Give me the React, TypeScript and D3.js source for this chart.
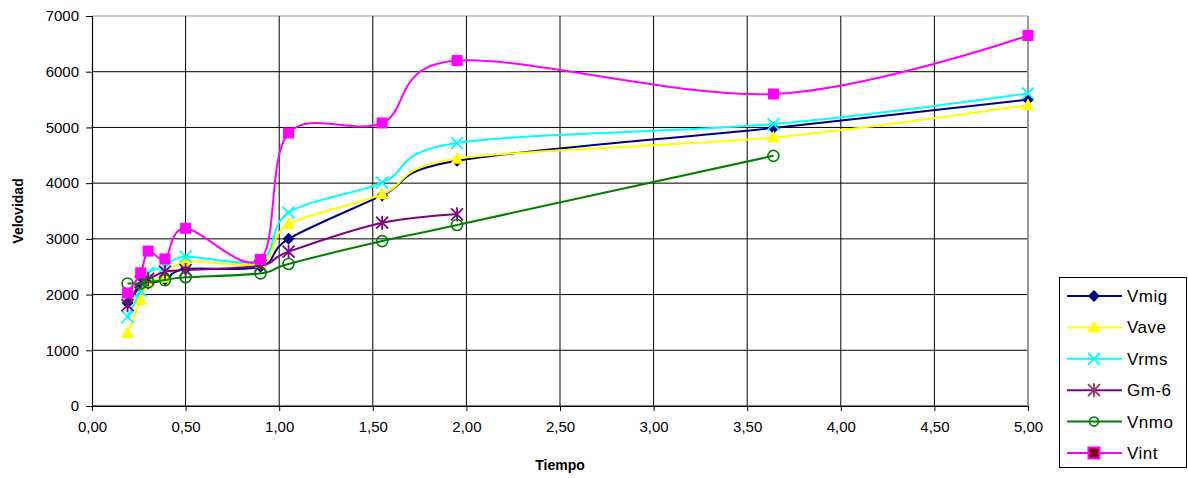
import { useEffect, useRef } from "react";
import * as d3 from "d3";

// tiempo values (x)
const tiempo = [0.19, 0.26, 0.3, 0.39, 0.5, 0.9, 1.05, 1.55, 1.95, 3.64, 5.0];
const tiempoCorto = [0.19, 0.26, 0.3, 0.39, 0.5, 0.9, 1.05, 1.55, 1.95];
const tiempoNmo = [0.19, 0.26, 0.3, 0.39, 0.5, 0.9, 1.05, 1.55, 1.95, 3.64];

const vmig = [1850, 2150, 2200, 2270, 2460, 2500, 3000, 3780, 4400, 4990, 5500];
const vave = [1310, 1900, 2230, 2300, 2590, 2570, 3260, 3800, 4440, 4820, 5400];
const vrms = [1600, 2070, 2390, 2500, 2680, 2620, 3470, 4010, 4720, 5060, 5610];
const gm6 = [1810, 2230, 2280, 2410, 2440, 2520, 2770, 3290, 3440];
const vnmo = [2200, 2200, 2220, 2260, 2310, 2380, 2550, 2960, 3250, 4490];
const vint = [2030, 2390, 2780, 2640, 3190, 2630, 4900, 5080, 6200, 5600, 6650];

const yTicks = [0, 1000, 2000, 3000, 4000, 5000, 6000, 7000];
const xTicks = [0, 0.5, 1, 1.5, 2, 2.5, 3, 3.5, 4, 4.5, 5];

const series = [
  { name: "Vmig", xs: tiempo, ys: vmig, color: "#000080", marker: "diamond" },
  { name: "Vave", xs: tiempo, ys: vave, color: "#FFFF00", marker: "triangle" },
  { name: "Vrms", xs: tiempo, ys: vrms, color: "#00FFFF", marker: "x" },
  { name: "Gm-6", xs: tiempoCorto, ys: gm6, color: "#800080", marker: "star" },
  { name: "Vnmo", xs: tiempoNmo, ys: vnmo, color: "#008000", marker: "circle" },
  { name: "Vint", xs: tiempo, ys: vint, color: "#FF00FF", marker: "square" },
];

function drawMarker(g: any, kind: string, cx: number, cy: number, color: string, legend = false) {
  if (kind === "diamond") {
    g.append("path")
      .attr("d", `M${cx},${cy - 6}L${cx + 6},${cy}L${cx},${cy + 6}L${cx - 6},${cy}Z`)
      .attr("fill", color);
  } else if (kind === "triangle") {
    g.append("path")
      .attr("d", `M${cx},${cy - 7}L${cx + 6.5},${cy + 5}L${cx - 6.5},${cy + 5}Z`)
      .attr("fill", color);
  } else if (kind === "x") {
    g.append("path")
      .attr("d", `M${cx - 6},${cy - 6}L${cx + 6},${cy + 6}M${cx - 6},${cy + 6}L${cx + 6},${cy - 6}`)
      .attr("stroke", color)
      .attr("stroke-width", 1.8);
  } else if (kind === "star") {
    g.append("path")
      .attr(
        "d",
        `M${cx - 6},${cy - 6}L${cx + 6},${cy + 6}M${cx - 6},${cy + 6}L${cx + 6},${cy - 6}M${cx},${cy - 7}L${cx},${cy + 7}`
      )
      .attr("stroke", legend ? "#993366" : color)
      .attr("stroke-width", 1.8);
  } else if (kind === "circle") {
    g.append("circle")
      .attr("cx", cx)
      .attr("cy", cy)
      .attr("r", legend ? 4.5 : 5.5)
      .attr("fill", "none")
      .attr("stroke", color)
      .attr("stroke-width", 1.6);
  } else if (kind === "square") {
    g.append("rect")
      .attr("x", cx - 5.5)
      .attr("y", cy - 5.5)
      .attr("width", 11)
      .attr("height", 11)
      .attr("fill", legend ? "#800000" : color)
      .attr("stroke", color)
      .attr("stroke-width", legend ? 2 : 0);
  }
}

export default function App() {
  const ref = useRef<SVGSVGElement>(null);

  useEffect(() => {
    const margin = { top: 16, right: 160, bottom: 72, left: 92 };
    const width = 1188;
    const height = 478;
    const svg = d3.select(ref.current);
    svg.selectAll("*").remove();

    const x = d3.scaleLinear().domain([0, 5]).range([margin.left, width - margin.right]);
    const y = d3.scaleLinear().domain([0, 7000]).range([height - margin.bottom, margin.top]);

    const font = "'Liberation Sans', Arial, sans-serif";

    // grid lines
    const grid = svg.append("g");
    yTicks.forEach((t) => {
      grid.append("line")
        .attr("x1", x(0)).attr("x2", x(5))
        .attr("y1", y(t)).attr("y2", y(t))
        .attr("stroke", t === 7000 ? "#999" : "#000")
        .attr("stroke-width", 1);
    });
    xTicks.forEach((t) => {
      if (t === 0) return;
      grid.append("line")
        .attr("x1", x(t)).attr("x2", x(t))
        .attr("y1", y(0)).attr("y2", y(7000))
        .attr("stroke", t === 5 ? "#999" : "#000")
        .attr("stroke-width", t === 5 ? 2 : 1);
    });

    // axes
    const yAxis = svg.append("g")
      .attr("transform", `translate(${x(0)},0)`)
      .call(d3.axisLeft(y).tickValues(yTicks).tickSize(6).tickPadding(7).tickFormat((d: any) => String(d)));
    const xAxis = svg.append("g")
      .attr("transform", `translate(0,${y(0)})`)
      .call(
        d3.axisBottom(x).tickValues(xTicks).tickSize(5).tickPadding(10)
          .tickFormat((d: any) => d3.format(".2f")(d).replace(".", ","))
      );
    [yAxis, xAxis].forEach((a) => {
      a.select(".domain").attr("stroke", "#000").attr("stroke-width", 1.2);
      a.selectAll(".tick line").attr("stroke", "#000");
      a.selectAll("text").attr("font-family", font).attr("font-size", 15).attr("fill", "#000");
    });

    // axis titles
    svg.append("text")
      .attr("x", (x(0) + x(5)) / 2)
      .attr("y", 470)
      .attr("text-anchor", "middle")
      .attr("font-family", font)
      .attr("font-size", 14)
      .attr("font-weight", "bold")
      .text("Tiempo");
    svg.append("text")
      .attr("transform", `translate(23,${(y(0) + y(7000)) / 2}) rotate(-90)`)
      .attr("text-anchor", "middle")
      .attr("font-family", font)
      .attr("font-size", 14)
      .attr("font-weight", "bold")
      .text("Velovidad");

    // lines
    const line = d3.line<[number, number]>()
      .x((d) => x(d[0]))
      .y((d) => y(d[1]))
      .curve(d3.curveCatmullRom.alpha(0));

    series.forEach((s) => {
      const pts: [number, number][] = s.xs.map((t, i) => [t, s.ys[i]]);
      svg.append("path")
        .datum(pts)
        .attr("fill", "none")
        .attr("stroke", s.color)
        .attr("stroke-width", 2)
        .attr("d", line);
      const mg = svg.append("g");
      pts.forEach((p) => drawMarker(mg, s.marker, x(p[0]), y(p[1]), s.color));
    });

    // legend
    const lg = svg.append("g");
    lg.append("rect")
      .attr("x", 1059.5).attr("y", 277.5)
      .attr("width", 127).attr("height", 190)
      .attr("fill", "#fff").attr("stroke", "#000").attr("stroke-width", 1);
    series.forEach((s, i) => {
      const cy = 296 + i * 31.4;
      lg.append("line")
        .attr("x1", 1067).attr("x2", 1122)
        .attr("y1", cy).attr("y2", cy)
        .attr("stroke", s.color).attr("stroke-width", 2);
      drawMarker(lg, s.marker, 1094, cy, s.color, true);
      lg.append("text")
        .attr("x", 1127).attr("y", cy + 6)
        .attr("font-family", font)
        .attr("font-size", 17)
        .attr("letter-spacing", 0.5)
        .text(s.name);
    });
  }, []);

  return (
    <svg
      ref={ref}
      width={1188}
      height={478}
      style={{ position: "absolute", left: 0, top: 0, background: "#fff" }}
    />
  );
}
